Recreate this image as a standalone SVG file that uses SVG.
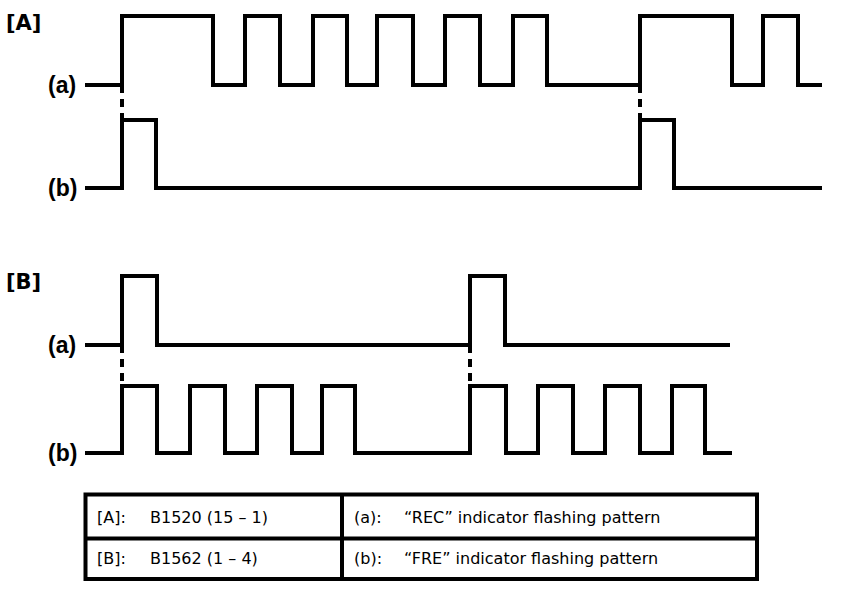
<svg xmlns="http://www.w3.org/2000/svg" width="864" height="594" viewBox="0 0 864 594">
<style>
.bg{fill:#fff}
.wave{fill:none;stroke:#000;stroke-width:4;stroke-linejoin:miter;stroke-linecap:butt}
.dash{fill:none;stroke:#000;stroke-width:4;stroke-dasharray:8 6}
.sec{font-family:"DejaVu Sans",sans-serif;font-weight:bold;font-size:21px;fill:#000}
.lbl{font-family:"Liberation Sans",Arial,sans-serif;font-weight:bold;font-size:23px;fill:#000}
.tbl{fill:none;stroke:#000;stroke-width:4}
.tt{font-family:"DejaVu Sans",sans-serif;font-size:16px;fill:#000}
</style>
<rect class="bg" x="0" y="0" width="864" height="594"/>
<g id="section-A">
  <text class="sec" x="6" y="30">[A]</text>
  <g id="A-a">
    <text class="lbl" x="48" y="93">(a)</text>
    <path class="wave" d="M85,85 H122 V16 H213 V85 H245 V16 H280 V85 H313 V16 H347 V85 H377 V16 H413 V85 H445 V16 H480 V85 H513 V16 H547 V85 H640 V16 H732 V85 H763 V16 H798 V85 H822"/>
  </g>
  <g id="A-b">
    <text class="lbl" x="48" y="196">(b)</text>
    <path class="wave" d="M85,188 H122 V120 H156 V188 H640 V120 H674 V188 H822"/>
  </g>
</g>
<g id="section-B">
  <text class="sec" x="6" y="289">[B]</text>
  <g id="B-a">
    <text class="lbl" x="48" y="353">(a)</text>
    <path class="wave" d="M85,345 H122 V276 H157 V345 H470 V276 H505 V345 H730"/>
  </g>
  <g id="B-b">
    <text class="lbl" x="48" y="461">(b)</text>
    <path class="wave" d="M85,453 H122 V386 H157 V453 H190 V386 H225 V453 H257 V386 H292 V453 H322 V386 H355 V453 H470 V386 H506 V453 H538 V386 H573 V453 H605 V386 H640 V453 H672 V386 H705 V453 H732"/>
  </g>
</g>
<g id="connectors">
  <line class="dash" x1="122" y1="85" x2="122" y2="120"/>
  <line class="dash" x1="640" y1="85" x2="640" y2="120"/>
  <line class="dash" x1="122" y1="345" x2="122" y2="386"/>
  <line class="dash" x1="470" y1="345" x2="470" y2="386"/>
</g>
<g id="legend">
  <rect class="tbl" x="85.5" y="494.5" width="671.5" height="84.5"/>
  <line class="tbl" x1="85.5" y1="538.5" x2="757" y2="538.5"/>
  <line class="tbl" x1="342" y1="494.5" x2="342" y2="579"/>
  <text class="tt" x="97" y="523">[A]:</text>
  <text class="tt" x="150" y="523">B1520 (15 – 1)</text>
  <text class="tt" x="97" y="564">[B]:</text>
  <text class="tt" x="150" y="564">B1562 (1 – 4)</text>
  <text class="tt" x="354" y="523">(a):</text>
  <text class="tt" x="404" y="523">“REC” indicator flashing pattern</text>
  <text class="tt" x="354" y="564">(b):</text>
  <text class="tt" x="404" y="564">“FRE” indicator flashing pattern</text>
</g>
</svg>
